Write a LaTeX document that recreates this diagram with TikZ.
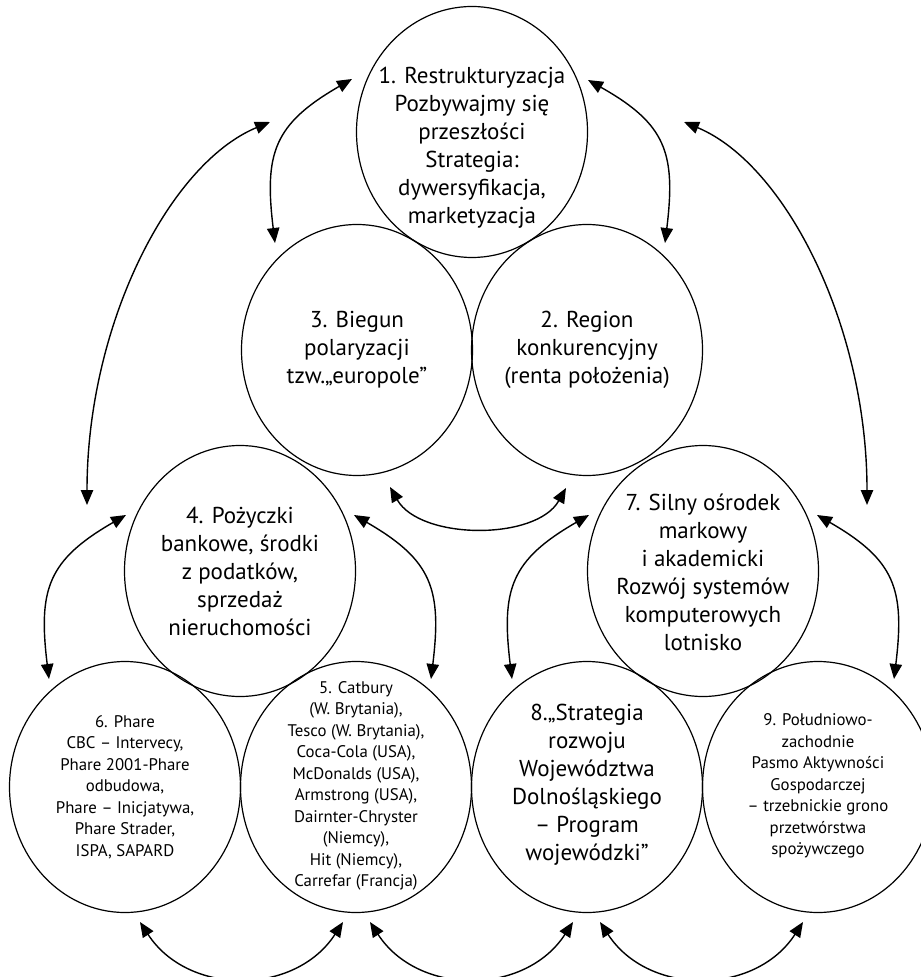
\documentclass[tikz,border=0pt]{standalone}
\usepackage{fontspec}
\setmainfont{PT Sans}
\usetikzlibrary{shapes.geometric,arrows.meta}
\begin{document}
\begin{tikzpicture}[x=0.5pt,y=-0.5pt,
  bubble/.style={draw, ellipse, line width=0.6pt, minimum width=115.5pt,
    minimum height=125.5pt, inner sep=0pt, outer sep=0pt},
  bigtext/.style={align=center, inner sep=0pt, font=\fontsize{11.5}{14}\selectfont},
  smalltext/.style={align=center, inner sep=0pt, font=\fontsize{8.4}{10.75}\selectfont},
  link/.style={line width=0.7pt,
    {Triangle[length=7.5pt,width=6.2pt]}-{Triangle[length=7.5pt,width=6.2pt]}}
]
\useasboundingbox (0,0) rectangle (920,977);

% the nine ellipses
\node[bubble] (c1) at (472,132) {};
\node[bubble] (c3) at (357,350) {};
\node[bubble] (c2) at (587,350) {};
\node[bubble] (c4) at (240,571) {};
\node[bubble] (c7) at (703,571) {};
\node[bubble] (c6) at (125,787) {};
\node[bubble] (c5) at (356,787) {};
\node[bubble] (c8) at (587,787) {};
\node[bubble] (c9) at (818,787) {};

% their texts
\node[bigtext] (t1) at (472,148) {1. Restrukturyzacja\\Pozbywajmy się\\przeszłości\\Strategia:\\dywersyfikacja,\\marketyzacja};
\node[bigtext] (t3) at (357,350) {3. Biegun\\polaryzacji\\tzw.„europole”};
\node[bigtext] (t2) at (587,350) {2. Region\\konkurencyjny\\(renta położenia)};
\node[bigtext] (t4) at (240,571) {4. Pożyczki\\bankowe, środki\\z podatków,\\sprzedaż\\nieruchomości};
\node[bigtext] (t7) at (703,572) {7. Silny ośrodek\\markowy\\i akademicki\\Rozwój systemów\\komputerowych\\lotnisko};
\node[smalltext] (t6) at (125,787) {6. Phare\\CBC – Intervecy,\\Phare 2001-Phare\\odbudowa,\\Phare – Inicjatywa,\\Phare Strader,\\ISPA, SAPARD};
\node[smalltext] (t5) at (356,786) {5. Catbury\\(W. Brytania),\\Tesco (W. Brytania),\\Coca-Cola (USA),\\McDonalds (USA),\\Armstrong (USA),\\Dairnter-Chryster\\(Niemcy),\\Hit (Niemcy),\\Carrefar (Francja)};
\node[bigtext] (t8) at (587,785) {8.„Strategia\\rozwoju\\Województwa\\Dolnośląskiego\\– Program\\wojewódzki”};
\node[smalltext] (t9) at (818,786) {9. Południowo-\\zachodnie\\Pasmo Aktywności\\Gospodarczej\\– trzebnickie grono\\przetwórstwa\\spożywczego};

% arrow ends
\coordinate (a1) at (352,79);  \coordinate (a2) at (275,243);
\coordinate (b1) at (588,80);  \coordinate (b2) at (665,243);
\coordinate (cl1) at (270,122); \coordinate (cl2) at (87,505);
\coordinate (cr1) at (684,122); \coordinate (cr2) at (867,505);
\coordinate (e1) at (390,487); \coordinate (e2) at (566,488);
\coordinate (f1) at (126,515); \coordinate (f2) at (49,679);
\coordinate (g1) at (354,515); \coordinate (g2) at (431,679);
\coordinate (h1) at (589,515); \coordinate (h2) at (512,679);
\coordinate (i1) at (817,515); \coordinate (i2) at (894,679);
\coordinate (j1) at (140,922); \coordinate (j2) at (343,922);
\coordinate (k1) at (370,922); \coordinate (k2) at (573,922);
\coordinate (l1) at (600,922); \coordinate (l2) at (803,922);

% curved double-headed links
\draw[link] (a1) .. controls (274,124) and (264,153) .. (a2);
\draw[link] (b1) .. controls (666,124) and (676,153) .. (b2);
\draw[link] (cl1) .. controls (169,164) and (87,325) .. (cl2);
\draw[link] (cr1) .. controls (785,164) and (867,325) .. (cr2);
\draw[link] (e1) .. controls (420,540) and (536,541) .. (e2);
\draw[link] (f1) .. controls (48,560) and (38,589) .. (f2);
\draw[link] (g1) .. controls (432,560) and (442,589) .. (g2);
\draw[link] (h1) .. controls (511,560) and (501,589) .. (h2);
\draw[link] (i1) .. controls (895,560) and (905,589) .. (i2);
\draw[link] (j1) .. controls (188,996) and (295,996) .. (j2);
\draw[link] (k1) .. controls (418,996) and (525,996) .. (k2);
\draw[link] (l1) .. controls (648,996) and (755,996) .. (l2);
\end{tikzpicture}
\end{document}
